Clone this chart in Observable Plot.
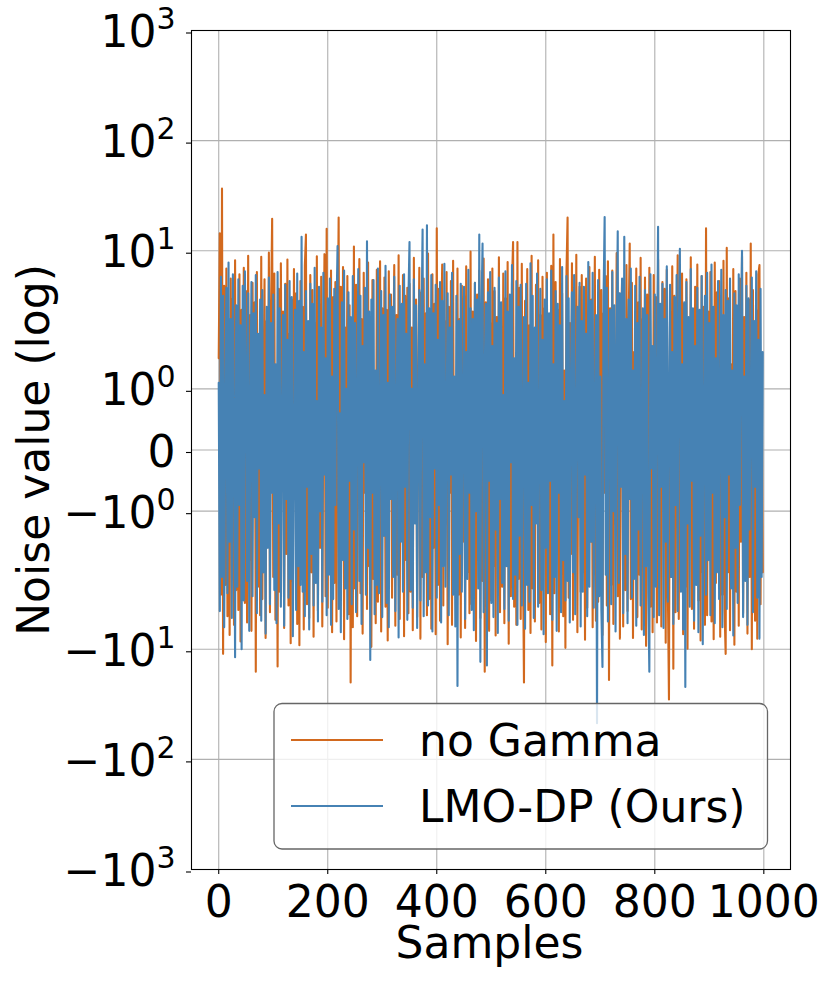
<!DOCTYPE html>
<html><head><meta charset="utf-8">
<script src="https://cdn.jsdelivr.net/npm/d3@7"></script>
<script src="https://cdn.jsdelivr.net/npm/@observablehq/plot@0.6"></script>
<style>body{margin:0;background:#fff}</style>
</head><body><div id="chart"></div>
<script>
const sampleStep = 2;
const seriesNames = ["no Gamma", "LMO-DP (Ours)"];
const seriesColors = ["#d2691e", "#4682b4"];
const xTicks = [0, 200, 400, 600, 800, 1000];
const yTicks = [-1000, -100, -10, -1, 0, 1, 10, 100, 1000];

const noGamma = [
1.5,14.4,-3.2,36.6,-11.0,4.8,-2.6,6.9,-5.0,2.1,-7.4,5.6,-1.3,3.7,-6.0,8.2,-2.9,0.7,-4.4,6.1,-8.5,2.9,-1.0,7.0,-3.8,
4.3,-5.7,9.0,-1.8,2.6,-6.8,5.1,-0.9,3.4,-16.0,6.4,-2.7,1.6,-4.9,8.8,-3.5,0.8,5.5,-7.9,2.3,-1.5,9.6,-4.6,3.0,19.5,
-2.2,6.2,-5.4,1.1,-14.3,4.5,-3.0,7.7,-0.6,2.8,-6.4,5.0,-1.7,8.3,-4.0,1.9,-8.8,3.6,-2.4,6.8,-0.4,4.1,-5.9,2.5,-9.2,
5.3,-1.2,3.1,-6.6,7.3,14.0,-3.9,1.3,-5.2,6.0,-2.0,4.4,-7.7,2.2,-0.8,8.9,-4.5,3.3,-1.6,5.8,-6.2,1.0,9.3,-3.3,15.8,
-4.2,2.7,-0.9,6.6,-7.0,3.8,-2.5,5.2,-5.6,1.4,20.0,-3.6,4.7,-1.1,7.1,-8.1,2.0,-0.5,5.9,-4.8,3.2,-20.0,1.7,-6.3,10.9,
-2.8,4.9,-5.0,1.5,8.4,-3.1,2.4,-7.2,6.3,-0.7,3.5,-4.3,7.8,-1.9,2.1,-9.5,5.4,-2.3,0.9,-5.8,6.7,-3.7,1.8,8.0,-6.9,
3.0,-1.4,5.7,-4.1,2.9,-8.3,6.5,-0.6,4.0,-3.4,1.2,7.4,-6.1,2.6,-2.1,9.1,-5.3,1.6,-0.8,6.0,-7.6,3.9,-1.8,4.6,-4.7,
5.0,-3.0,2.0,-6.7,8.6,-1.0,3.6,-5.1,1.1,7.0,-8.0,4.2,-2.2,5.6,-0.9,2.7,-4.9,9.4,-3.5,1.4,-6.5,6.1,-1.6,3.3,-7.3,
16.0,-2.6,4.5,-5.5,1.9,7.5,-4.0,2.3,-1.2,6.4,-9.0,3.1,-0.7,5.3,-6.0,8.1,-2.9,1.0,-4.4,6.9,-3.2,2.4,-7.8,4.8,-1.5,
3.9,-6.4,7.2,-2.0,1.3,-4.7,9.8,-3.9,2.8,-0.6,5.1,-8.4,4.0,-1.3,6.6,-5.2,1.7,-2.4,8.5,-16.0,3.4,-1.0,5.5,-6.8,2.2,
-3.6,6.9,-1.9,4.3,-7.5,2.5,-0.8,8.7,-4.6,1.6,-2.7,6.2,-5.8,3.7,-1.2,7.9,-8.9,2.0,-3.3,5.0,12.0,-4.1,1.4,-6.0,12.0,
-2.3,4.6,-5.3,7.6,-1.6,-20.0,3.5,-0.5,6.8,-4.4,2.1,-7.1,9.0,-2.8,1.2,-5.6,4.9,-1.1,8.2,-3.8,2.6,-6.6,5.8,-0.9,3.0,
-8.6,6.3,-2.5,1.8,-4.8,7.3,-14.0,14.0,-3.1,5.2,-0.6,2.9,-6.9,8.4,-1.4,4.1,-5.0,1.3,-9.7,6.5,20.0,-3.4,2.2,-1.7,7.7,
-5.4,3.2,-0.9,9.2,-7.0,1.5,4.7,-3.0,6.0,-2.0,1.1,-8.2,5.6,-4.2,2.5,7.1,-1.5,3.6,-6.3,0.8,8.8,-5.5,2.0,-3.7,6.7,
-1.9,4.4,-7.4,2.7,-0.7,5.9,-4.0,8.0,-19.0,3.0,-2.6,6.6,-5.9,1.4,-1.2,9.5,-3.3,4.1,-8.0,2.3,5.4,-6.2,1.7,-2.9,7.4,
-4.5,2.1,11.6,-3.5,5.1,-7.9,1.6,-1.0,6.9,-5.1,3.4,-2.1,8.6,-6.6,2.4,-0.8,5.7,-9.3,4.0,-1.6,7.0,-4.1,1.2,-7.0,6.0,
-2.4,3.8,-5.7,8.3,-1.3,2.6,-6.2,5.2,-0.5,4.5,-8.7,6.7,-3.0,-28.6,2.8,-2.2,7.2,-15.0,3.9,-4.6,1.0,9.1,-5.3,2.0,-1.8,
6.2,-7.3,3.3,-2.7,5.5,-9.9,1.9,-0.6,8.7,-4.3,2.6,-6.5,4.7,-1.4,7.5,-3.6,1.0,-8.3,5.9,-2.0,3.1,-6.0,16.0,-4.9,2.8,
-1.0,6.4,-5.6,2.3,-8.1,7.8,-2.5,4.2,-0.7,5.3,-7.7,1.8,-3.2,8.1,-4.4,-11.0,10.6,-2.0,3.7,-6.7,1.4,-1.1,6.8,-9.1,4.3,
-3.0,1.7,-6.1,5.6,-1.5,8.9,-4.7,2.5,-0.8,6.3,-7.2,3.6,-2.2,11.6,-10.0,4.4,-1.3,-5.5,2.9,-8.0,6.1,7.4,-3.9,1.2,-2.0
];

const lmoDp = [
1.1,-4.5,5.8,-2.2,3.9,-6.3,0.7,4.6,-3.1,7.8,-1.5,2.4,-5.2,6.1,0.4,-11.8,3.2,-2.7,5.5,-0.9,2.1,-10.0,4.8,-3.6,6.5,
1.3,-2.4,4.1,-6.8,0.6,5.2,-3.3,2.7,-1.1,6.0,-4.7,1.9,-0.3,3.6,-5.5,4.4,-2.0,0.9,-7.2,3.1,-1.6,5.7,-3.9,2.2,-0.7,
4.0,-2.9,1.4,-5.8,6.4,-1.2,3.0,-4.1,0.5,2.6,-6.1,4.9,-0.8,1.8,-3.4,5.3,-2.3,3.8,-7.6,0.2,2.9,-4.4,6.2,-1.9,3.5,
-2.6,13.4,-3.0,1.6,-5.0,4.3,-0.6,2.3,-6.6,5.0,-1.7,3.3,-4.0,7.0,-2.5,0.8,-5.6,4.7,-1.0,2.0,-3.7,6.3,-0.4,1.5,-4.9,
3.7,-2.1,5.6,-6.0,1.2,-3.5,4.5,-0.9,2.8,11.0,-4.3,0.6,-7.0,3.4,-1.8,6.6,-2.8,1.0,-5.3,4.2,-0.5,2.5,-3.9,5.9,-1.3,
2.2,-4.6,0.9,6.8,-2.4,3.9,-5.9,1.7,-0.2,4.6,-3.2,12.2,-1.6,2.8,-12.5,3.6,-0.7,5.4,-4.8,1.3,-2.6,6.9,-3.1,0.4,4.3,
-5.1,2.6,-1.4,7.3,-3.8,1.1,-6.3,4.0,-0.8,3.1,-2.2,5.8,-4.5,0.7,2.4,-7.8,4.8,-1.5,3.3,-3.0,6.1,-0.6,1.9,-5.4,3.7,
12.0,-2.9,1.0,-4.2,5.5,-1.2,3.2,-6.4,0.6,4.4,-3.6,2.1,15.6,-5.0,1.4,-2.0,17.0,-4.0,3.0,-1.1,6.0,-6.9,2.7,-0.3,4.9,
-3.4,1.8,-0.9,5.2,-5.7,3.5,-1.9,7.6,-2.7,0.5,4.1,-4.9,2.0,-0.4,6.3,-3.2,1.2,-6.2,3.9,-21.5,2.3,-1.7,5.0,-3.0,0.8,
4.7,-5.3,1.6,-2.3,6.7,-0.7,3.0,-4.4,2.4,-6.7,5.1,-1.0,3.6,-2.8,14.0,-13.0,2.9,11.6,-4.6,1.3,3.3,-14.0,4.2,-0.5,6.4,
-3.8,1.7,-5.1,4.6,-1.3,2.2,-7.1,5.7,-0.8,3.4,-2.5,0.9,-4.3,6.5,-1.9,2.8,-5.5,4.0,-0.2,7.4,-3.5,1.5,-2.1,5.3,-6.0,
3.1,-1.4,4.9,-4.0,0.6,2.5,-6.5,5.0,-2.6,1.1,-3.7,7.7,-0.9,3.9,-5.2,2.0,-1.2,6.2,-4.1,0.3,4.5,-2.9,1.8,-7.3,3.6,
-1.6,5.5,-3.1,2.7,-0.5,6.6,-5.4,1.4,-2.2,4.3,-6.8,3.3,-0.7,2.1,-4.6,7.1,-1.8,0.8,-3.6,5.9,-2.4,3.7,-5.7,1.0,4.2,
-2.0,6.0,-4.8,0.5,3.1,-1.1,5.1,-6.2,2.3,-3.0,4.7,-0.4,1.9,-5.0,7.9,-2.7,3.5,-1.5,6.3,-4.2,0.7,2.6,-47.0,5.4,-3.3,
1.2,-4.4,-14.5,3.8,20.2,-2.1,4.6,-5.6,0.9,2.9,-3.9,6.4,-1.0,3.2,-6.9,1.6,15.0,-2.5,4.1,-0.6,5.6,-4.7,13.4,-1.7,2.4,
-5.8,3.6,-0.8,6.9,-3.4,1.3,-2.3,4.8,-6.1,2.2,-1.3,5.8,-4.0,0.4,3.0,-7.4,4.4,-1.9,2.6,-3.1,-16.0,6.1,-0.3,1.7,-5.1,
4.0,-2.7,1.1,16.5,-4.9,3.3,-0.6,5.0,-6.4,2.4,-1.5,7.2,-3.7,0.8,4.9,-2.2,1.6,-5.9,3.8,-0.9,6.0,-4.5,2.1,10.4,-3.0,
1.4,-6.6,3.4,-22.0,5.2,-1.2,2.5,-4.1,6.8,-0.5,3.0,-5.5,1.7,-2.6,4.6,-7.0,2.9,-1.4,5.9,-9.0,0.6,3.9,-3.2,6.3,-1.8,
2.2,-4.9,7.5,-0.7,3.1,-5.8,1.5,-2.0,5.3,-3.5,0.9,6.7,-6.3,2.6,-1.1,4.4,-4.3,3.5,-0.4,5.6,-2.8,1.3,-7.5,4.1,-1.6,
3.2,-3.8,6.1,-0.9,2.0,10.0,-5.1,1.2,-2.4,4.8,-6.0,3.7,-1.3,0.7,5.7,-4.6,2.3,-0.6,6.5,-3.4,1.8,-8.0,4.5,-2.2,1.6
];

// matplotlib-style symlog (base 10, linthresh 2, linscale 1)
const linthresh = 2, linscale = 1;
const linAdj = linscale / (1 - 1 / 10);
function symlog(v) {
  const a = Math.abs(v);
  return a <= linthresh ? (v / linthresh) * linAdj : Math.sign(v) * (linAdj + Math.log10(a / linthresh));
}
const yTickPos = yTicks.map(symlog);
const yLabelMap = new Map(yTicks.map(v => {
  if (v === 0) return [symlog(v), "0"];
  const e = Math.round(Math.log10(Math.abs(v)));
  return [symlog(v), (v < 0 ? "\u2212" : "") + "10^" + e];
}));

const toRows = (arr, name) => arr.map((v, i) => ({sample: i * sampleStep, value: v, t: symlog(v), series: name}));
const rowsA = toRows(noGamma, seriesNames[0]);
const rowsB = toRows(lmoDp, seriesNames[1]);
const yMax = symlog(1000);

const W = 831, H = 988, mL = 191, mR = 41, mT = 30, mB = 119;
const plot = Plot.plot({
  width: W, height: H,
  marginTop: mT, marginBottom: mB, marginLeft: mL, marginRight: mR,
  style: {fontFamily: "'DejaVu Sans'", fontSize: "44px", background: "white", color: "black"},
  x: {domain: [-49.95, 1048.95]},
  y: {domain: [-yMax, yMax]},
  marks: [
    Plot.gridX(xTicks, {stroke: "#b0b0b0", strokeOpacity: 1, strokeWidth: 1.1}),
    Plot.gridY(yTickPos, {stroke: "#b0b0b0", strokeOpacity: 1, strokeWidth: 1.1}),
    Plot.line(rowsA, {x: "sample", y: "t", stroke: seriesColors[0], strokeWidth: 2.1, strokeLinejoin: "round"}),
    Plot.line(rowsB, {x: "sample", y: "t", stroke: seriesColors[1], strokeWidth: 2.1, strokeLinejoin: "round"}),
    Plot.frame({stroke: "black", strokeWidth: 1.1}),
    Plot.axisX(xTicks, {tickSize: 5, tickPadding: 11, fontSize: 44, label: null, strokeWidth: 1.1, tickFormat: d => String(d)}),
    Plot.axisY(yTickPos, {tickSize: 5, tickPadding: 11, fontSize: 44, label: null, strokeWidth: 1.1, dy: 2.5, tickFormat: d => yLabelMap.get(d)}),
    Plot.text(["Samples"], {text: d => d, frameAnchor: "bottom", dy: 74.5, dx: -1.5, fontSize: 44, lineAnchor: "middle", textAnchor: "middle"}),
    Plot.text(["Noise value (log)"], {text: d => d, frameAnchor: "left", rotate: -90, dx: -157, dy: 0, fontSize: 44, lineAnchor: "middle", textAnchor: "middle"})
  ]
});

// superscripts for tick labels
d3.select(plot).selectAll('g[aria-label="y-axis tick label"] text').each(function () {
  const s = this.textContent;
  if (s.includes("^")) {
    const [base, exp] = s.split("^");
    this.textContent = base;
    d3.select(this).append("tspan").attr("dy", "-18").attr("font-size", 30).text(exp);
  }
});

// legend (inside the axes, lower right)
const svg = d3.select(plot);
const lg = svg.append("g").attr("font-family", "'DejaVu Sans'").attr("text-anchor", "start");
lg.append("rect").attr("x", 274).attr("y", 703.5).attr("width", 493.5).attr("height", 145.5)
  .attr("rx", 8).attr("fill", "white").attr("fill-opacity", 0.8).attr("stroke", "#666").attr("stroke-width", 1.3);
seriesNames.forEach((n, k) => {
  const yy = 740 + k * 66;
  lg.append("line").attr("x1", 291).attr("x2", 383).attr("y1", yy).attr("y2", yy)
    .attr("stroke", seriesColors[k]).attr("stroke-width", 2.1);
  lg.append("text").attr("x", 419).attr("y", yy + 16).attr("font-size", 44)
    .attr("text-anchor", "start").attr("fill", "black").text(n);
});

document.getElementById("chart").append(plot);
</script>
</body></html>
